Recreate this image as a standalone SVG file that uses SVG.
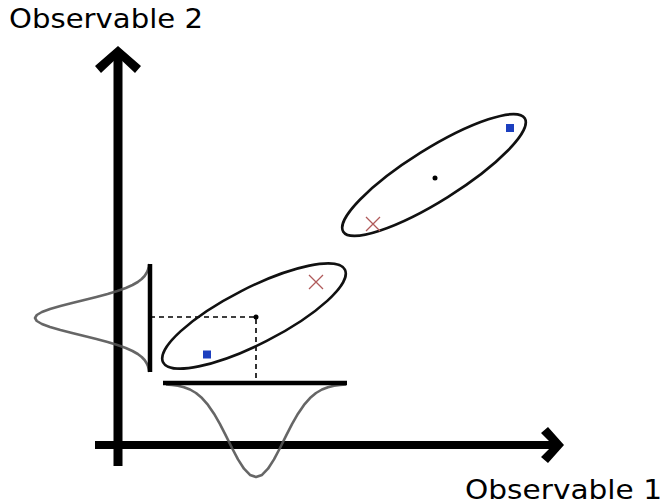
<svg xmlns="http://www.w3.org/2000/svg" width="666" height="504" viewBox="0 0 666 504">
<style>
.lbl{font-family:"DejaVu Sans","Liberation Sans",sans-serif;font-size:27px;fill:#000}
.ell{fill:none;stroke:#111;stroke-width:2.6}
.gauss{fill:none;stroke:#555;stroke-width:2.6;stroke-linejoin:round;opacity:0.9}
.bar{stroke:#000;stroke-width:4.5}
.dash{stroke:#000;stroke-width:1.6;stroke-dasharray:5,4;fill:none}
.x{stroke:#b05a5a;stroke-width:1.3;fill:none}
.sq{fill:#1c3fbf}
.axis{stroke:#000;fill:none}
</style>
<rect width="666" height="504" fill="#fff"/>
<g id="axes">
<line class="axis" x1="118" y1="55" x2="118" y2="466" stroke-width="9"/>
<polygon points="118,46 141,66 135,73 118,57 101,73 95,66" fill="#000"/>
<line class="axis" x1="95" y1="445" x2="556" y2="445" stroke-width="8"/>
<polygon points="564,445 548,427 541,433 553,445 541,457 548,463" fill="#000"/>
</g>
<g id="labels">
<text class="lbl" x="9" y="28" textLength="194" lengthAdjust="spacingAndGlyphs">Observable 2</text>
<text class="lbl" x="465" y="499" textLength="197" lengthAdjust="spacingAndGlyphs">Observable 1</text>
</g>
<g id="gaussian-left">
<path class="gauss" d="M149.3,264 L148.7,267 L147.9,270 L146.5,273 L144.6,276 L141.7,279 L137.8,282 L132.5,285 L125.8,288 L117.4,291 L107.6,294 L96.4,297 L84.3,300 L72.1,303 L60.4,306 L50,309 L41.9,312 L36.8,315 L35,318 L36.8,321 L41.9,324 L50,327 L60.4,330 L72.1,333 L84.3,336 L96.4,339 L107.6,342 L117.4,345 L125.8,348 L132.5,351 L137.8,354 L141.7,357 L144.6,360 L146.5,363 L147.9,366 L148.7,369 L149.3,372"/>
</g>
<g id="gaussian-bottom">
<path class="gauss" d="M166,384.5 L172,385 L178,385.8 L184,387.2 L190,389.5 L196,393 L202,398.1 L208,404.9 L214,413.7 L220,424.2 L226,435.9 L232,448 L238,459.4 L244,468.7 L250,474.9 L256,477 L262,474.9 L268,468.7 L274,459.4 L280,448 L286,435.9 L292,424.2 L298,413.7 L304,404.9 L310,398.1 L316,393 L322,389.5 L328,387.2 L334,385.8 L340,385 L346,384.5"/>
</g>
<g id="projection-bars">
<line class="bar" x1="150" y1="264" x2="150" y2="372"/>
<line class="bar" x1="163" y1="383" x2="347" y2="383"/>
</g>
<g id="connectors">
<polyline class="dash" points="150,317 256,317 256,383"/>
</g>
<g id="ellipse-lower">
<ellipse class="ell" cx="254" cy="316" rx="102" ry="28" transform="rotate(-27 254 316)"/>
<circle cx="256" cy="317" r="2.5" fill="#000"/>
<rect class="sq" x="203" y="350.5" width="8" height="8"/>
<path class="x" d="M309,275 L323,289 M323,275 L309,289"/>
</g>
<g id="ellipse-upper">
<ellipse class="ell" cx="434" cy="175" rx="107" ry="26" transform="rotate(-32 434 175)"/>
<circle cx="435" cy="178" r="2.5" fill="#000"/>
<rect class="sq" x="506" y="124" width="8" height="8"/>
<path class="x" d="M366,217 L380,231 M380,217 L366,231"/>
</g>
</svg>
